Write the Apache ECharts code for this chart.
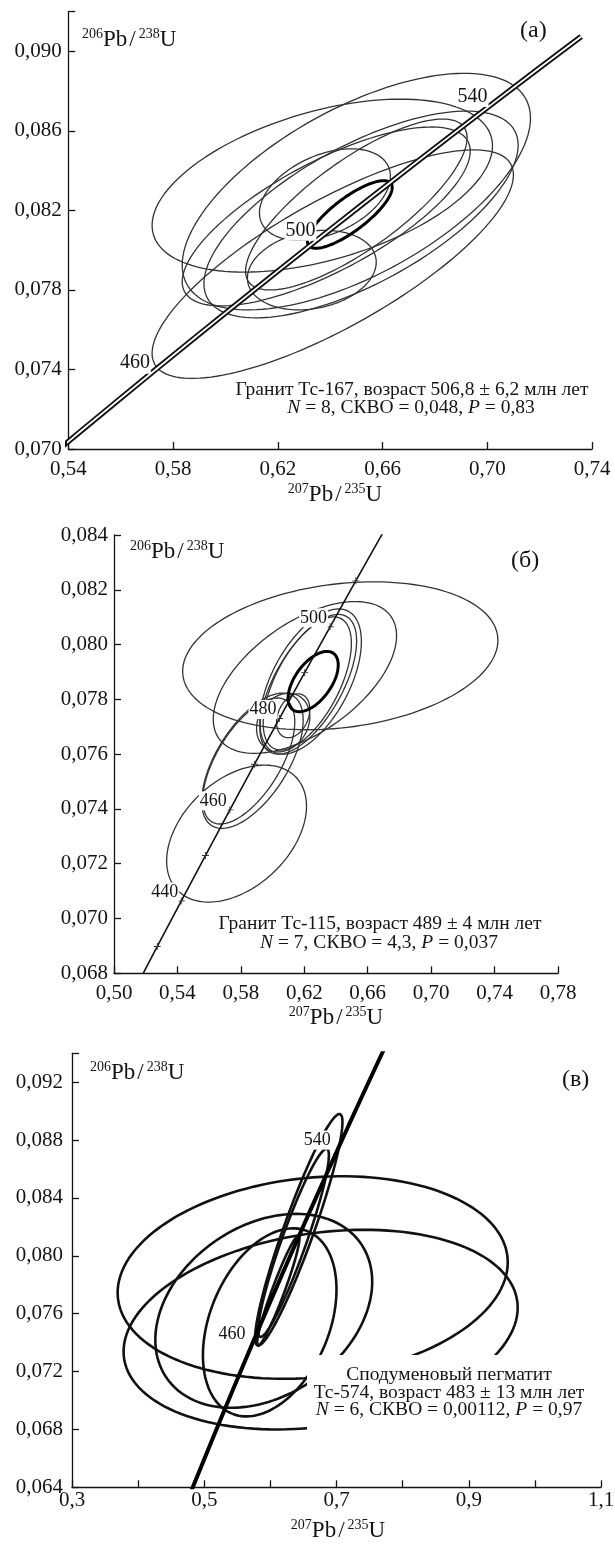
<!DOCTYPE html>
<html><head><meta charset="utf-8">
<script src="https://cdn.jsdelivr.net/npm/echarts@6/dist/echarts.min.js"></script>
<style>html,body{margin:0;padding:0;background:#fff}#c{width:615px;height:1551px}</style>
</head><body><div id="c"></div>
<script>
const FONT = '"Liberation Serif","Times New Roman",serif';
const INK = '#141414';

// Concordia curve points (age in Ma, 207Pb/235U, 206Pb/238U)
const concAges = [390,400,410,420,430,440,450,460,470,480,490,500,510,520,530,540,550,560,570,580,590];
const concX = [0.46828,0.48281,0.49749,0.51231,0.52728,0.54239,0.55766,0.57307,0.58864,0.60437,0.62024,0.63628,0.65247,0.66883,0.68535,0.70203,0.71887,0.73588,0.75306,0.77041,0.78794];
const concY = [0.062366,0.064016,0.065667,0.067322,0.068979,0.070638,0.072300,0.073965,0.075632,0.077302,0.078975,0.080650,0.082327,0.084008,0.085691,0.087376,0.089064,0.090755,0.092448,0.094144,0.095843];

// age ranges drawn per panel, tick ages and labelled ages
const rangeA = [430, 560], rangeB = [420, 530], rangeC = [390, 590];
const ticksB = [430,440,450,460,470,480,490,500,510];
const labelsA = [460,500,540];
const labelsB = [440,460,480,500];
const labelsC = [460,540];

// error ellipses: [x centre, y centre, x half-extent, y half-extent, correlation]
const ellipsesA = [
  [0.637, 0.08325, 0.065, 0.00435, 0.46],
  [0.650, 0.08295, 0.0665, 0.00595, 0.62],
  [0.638, 0.0828, 0.025, 0.0023, 0.40],
  [0.641, 0.0793, 0.069, 0.00575, 0.78],
  [0.633, 0.0790, 0.0246, 0.0020, 0.20],
  [0.6385, 0.0817, 0.055, 0.0045, 0.73],
  [0.6518, 0.0818, 0.060, 0.0052, 0.67],
  [0.650, 0.0823, 0.0423, 0.0043, 0.78]
];
const meanA = [[0.6475, 0.0818, 0.0162, 0.0017, 0.80]];

const ellipsesB = [
  [0.6427, 0.07959, 0.0994, 0.0027, 0.21],
  [0.6204, 0.0788, 0.0578, 0.00277, 0.55],
  [0.6219, 0.07858, 0.0278, 0.00243, 0.60],
  [0.6225, 0.07855, 0.0305, 0.00255, 0.62],
  [0.6240, 0.07865, 0.0320, 0.00265, 0.55],
  [0.6067, 0.07715, 0.0168, 0.00107, 0.20],
  [0.6130, 0.0774, 0.0105, 0.0008, 0.30],
  [0.5873, 0.07576, 0.0320, 0.00247, 0.60],
  [0.5850, 0.07575, 0.0290, 0.0023, 0.62],
  [0.5773, 0.0731, 0.0441, 0.0025, 0.40]
];
const meanB = [[0.6256, 0.07865, 0.0158, 0.0011, 0.55]];

const ellipsesC = [
  [0.664, 0.0785, 0.295, 0.0070, 0.15],
  [0.676, 0.0749, 0.298, 0.0069, 0.22],
  [0.590, 0.0762, 0.164, 0.0067, 0.30],
  [0.599, 0.0754, 0.101, 0.0065, 0.35],
  [0.643, 0.0818, 0.066, 0.0080, 0.93],
  [0.635, 0.0809, 0.0535, 0.0065, 0.93],
  [0.612, 0.0776, 0.032, 0.0038, 0.95]
];

// axis ranges [min, max, interval]
const axisAx = [0.54, 0.74, 0.04], axisAy = [0.070, 0.092, 0.004];
const axisBx = [0.50, 0.78, 0.04], axisBy = [0.068, 0.084, 0.002];
const axisCx = [0.3, 1.1, 0.1],   axisCy = [0.064, 0.094, 0.004];

function concPts(r) {
  return concAges.map((a, i) => [concX[i], concY[i], a]).filter(p => p[2] >= r[0] && p[2] <= r[1]);
}
function agePts(list) {
  return list.map(a => { const i = concAges.indexOf(a); return [concX[i], concY[i], a]; });
}
function ellipseRender(lw, color) {
  return function (params, api) {
    const cx = api.value(0), cy = api.value(1), sx = api.value(2), sy = api.value(3), r = api.value(4);
    const k = Math.sqrt(1 - r * r);
    const pts = [];
    for (let i = 0; i < 144; i++) {
      const t = i / 144 * 2 * Math.PI;
      const c = Math.cos(t), s = Math.sin(t);
      pts.push(api.coord([cx + sx * c, cy + sy * (r * c + k * s)]));
    }
    return { type: 'polygon', shape: { points: pts }, style: { fill: 'none', stroke: color, lineWidth: lw } };
  };
}
function ellSeries(g, data, lw, color, z) {
  return { type: 'custom', xAxisIndex: g, yAxisIndex: g, data: data, silent: true,
    dimensions: ['cx','cy','sx','sy','rho'], encode: { x: 0, y: 1 },
    renderItem: ellipseRender(lw, color), z: z, clip: true };
}
function lineSeries(g, data, w, color, z) {
  return { type: 'line', xAxisIndex: g, yAxisIndex: g, data: data, showSymbol: false, symbol: 'none',
    lineStyle: { width: w, color: color, opacity: 1 }, clip: true, silent: true, z: z, animation: false };
}
function labelSeries(g, data, size, off) {
  return { type: 'scatter', xAxisIndex: g, yAxisIndex: g, data: data, symbolSize: 0, silent: true, z: 20,
    itemStyle: { opacity: 1 },
    label: { show: true, position: 'left', distance: off[0], offset: [0, off[1]], formatter: p => String(p.value[2]),
      backgroundColor: '#fff', padding: [1, 1, 0, 1], fontFamily: FONT, fontSize: size, color: INK, lineHeight: size } };
}
const fmt = d => v => v.toFixed(d).replace('.', ',');
function xAx(g, a, margin, formatter) {
  return { gridIndex: g, type: 'value', min: a[0], max: a[1], interval: a[2],
    axisLine: { show: true, onZero: false, lineStyle: { color: INK, width: 1.3 } },
    axisTick: { show: true, inside: true, length: 7, lineStyle: { color: INK, width: 1.3 } },
    axisLabel: { margin: margin, fontFamily: FONT, fontSize: 21, color: INK, formatter: formatter },
    splitLine: { show: false } };
}
function yAx(g, a, margin, top) {
  return { gridIndex: g, type: 'value', min: a[0], max: a[1], interval: a[2],
    axisLine: { show: true, onZero: false, lineStyle: { color: INK, width: 1.3 } },
    axisTick: { show: true, inside: true, length: 7, lineStyle: { color: INK, width: 1.3 } },
    axisLabel: { margin: margin, fontFamily: FONT, fontSize: 21, color: INK, showMaxLabel: top,
      formatter: v => (v > top + 1e-9 ? '' : v.toFixed(3).replace('.', ',')) },
    splitLine: { show: false } };
}

const supRich = {
  s: { fontFamily: FONT, fontSize: 14, lineHeight: 14, verticalAlign: 'top', fill: INK, color: INK },
  m: { fontFamily: FONT, fontSize: 23, lineHeight: 25, fill: INK, color: INK },
  sl: { fontFamily: FONT, fontSize: 23, lineHeight: 25, fill: INK, color: INK, padding: [0, 3, 0, 2] }
};
const itRich = { i: { fontFamily: FONT, fontSize: 19.5, fontStyle: 'italic', fill: INK, color: INK } };
function ratioText(x, y, top, bot, align) {
  return { type: 'text', z: 101, silent: true, style: { x: x, y: y,
    text: '{s|' + top + '}{m|Pb}{sl|/}{s|' + bot + '}{m|U}',
    rich: supRich, align: align, verticalAlign: 'middle', fontFamily: FONT, fontSize: 23, fill: INK } };
}
function plainText(x, y, t, size, align) {
  return { type: 'text', z: 101, silent: true, style: { x: x, y: y, text: t, rich: itRich, align: align || 'center',
    verticalAlign: 'middle', fontFamily: FONT, fontSize: size, fill: INK } };
}

const chart = echarts.init(document.getElementById('c'), null, { renderer: 'canvas' });
chart.setOption({
  animation: false,
  backgroundColor: '#fff',
  grid: [
    { left: 68.3, top: 11.7, width: 523.7, height: 437.3, containLabel: false, outerBoundsMode: 'none' },
    { left: 114, top: 535, width: 444, height: 438.3, containLabel: false, outerBoundsMode: 'none' },
    { left: 72, top: 1053.3, width: 529, height: 434, containLabel: false, outerBoundsMode: 'none' }
  ],
  xAxis: [
    xAx(0, axisAx, 10, fmt(2)),
    xAx(1, axisBx, 9.5, fmt(2)),
    xAx(2, axisCx, 3, v => (Math.round(v * 10) % 2 === 1 ? v.toFixed(1).replace('.', ',') : ''))
  ],
  yAxis: [
    yAx(0, axisAy, 6.5, 0.090),
    yAx(1, axisBy, 6, 0.084),
    yAx(2, axisCy, 9, 0.092)
  ],
  series: [
    ellSeries(0, ellipsesA, 1.3, '#333', 3),
    ellSeries(0, meanA, 3, '#000', 4),
    lineSeries(0, concPts(rangeA), 5.5, '#111', 5),
    lineSeries(0, concPts(rangeA), 1.8, '#fff', 6),
    labelSeries(0, agePts(labelsA), 20, [4, -7]),

    ellSeries(1, ellipsesB, 1.3, '#333', 3),
    ellSeries(1, meanB, 3, '#000', 4),
    lineSeries(1, concPts(rangeB), 1.6, '#111', 5),
    { type: 'scatter', xAxisIndex: 1, yAxisIndex: 1, data: agePts(ticksB), silent: true, z: 6,
      symbol: 'path://M4.4,0h1.2v10h-1.2zM0,4.4h10v1.2h-10z', symbolSize: 7, itemStyle: { color: '#333', opacity: 1 } },
    labelSeries(1, agePts(labelsB), 18, [2, -9]),

    ellSeries(2, ellipsesC, 2.6, '#111', 3),
    lineSeries(2, concPts(rangeC), 4, '#000', 5),
    labelSeries(2, agePts(labelsC), 18, [6, -9])
  ],
  graphic: [
    ratioText(82, 40, '206', '238', 'left'),
    plainText(520, 31, '(а)', 24, 'left'),
    plainText(412, 390, 'Гранит Тс-167, возраст 506,8 ± 6,2 млн лет', 19.5),
    plainText(411, 407.5, '{i|N} = 8, СКВО = 0,048, {i|P} = 0,83', 19.5),
    ratioText(335, 495, '207', '235', 'center'),

    ratioText(130, 552, '206', '238', 'left'),
    plainText(511, 561, '(б)', 24, 'left'),
    plainText(380, 924, 'Гранит Тс-115, возраст 489 ± 4 млн лет', 19.5),
    plainText(379, 942.5, '{i|N} = 7, СКВО = 4,3, {i|P} = 0,037', 19.5),
    ratioText(336, 1018, '207', '235', 'center'),

    ratioText(90, 1073, '206', '238', 'left'),
    plainText(562, 1080, '(в)', 24, 'left'),
    { type: 'rect', z: 100, silent: true, shape: { x: 307, y: 1355, width: 300, height: 82 }, style: { fill: '#fff' } },
    plainText(449, 1375, 'Сподуменовый пегматит', 19.5),
    plainText(449, 1392.5, 'Тс-574, возраст 483 ± 13 млн лет', 19.5),
    plainText(449, 1410, '{i|N} = 6, СКВО = 0,00112, {i|P} = 0,97', 19.5),
    ratioText(338, 1531, '207', '235', 'center')
  ]
});
</script>
</body></html>
